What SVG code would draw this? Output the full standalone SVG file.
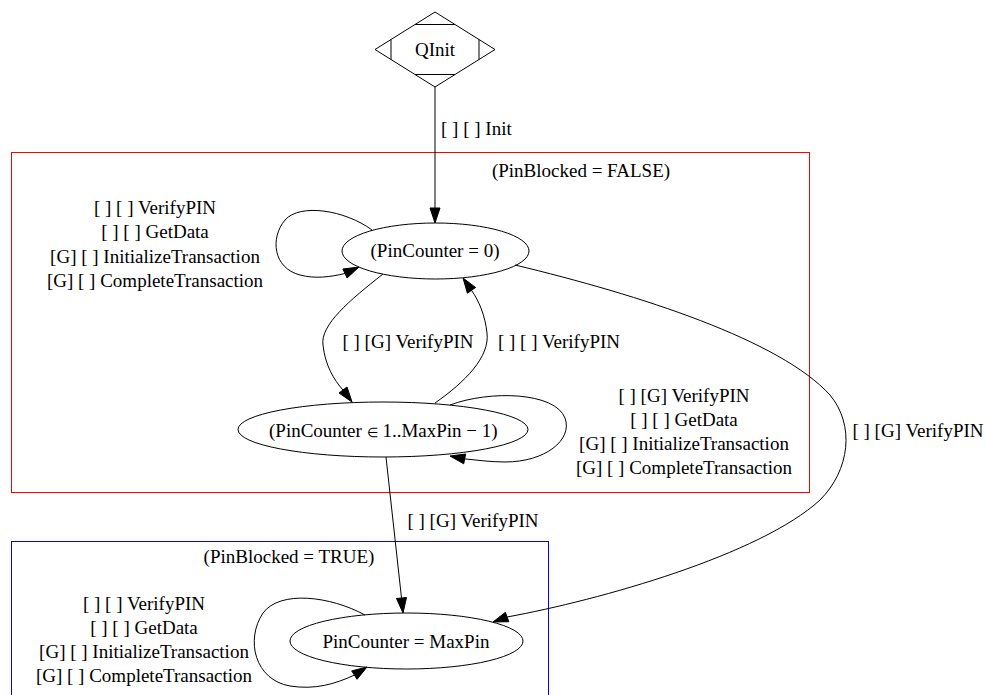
<svg xmlns="http://www.w3.org/2000/svg" width="986" height="695" viewBox="0 0 986 695">
<style>
text{font-family:"Liberation Serif","Times New Roman",serif;font-size:19px;fill:#000}
.mid{text-anchor:middle}
.sym{font-size:13px}
.edge{fill:none;stroke:#000;stroke-width:1}
.arr{fill:#000;stroke:#000;stroke-width:1}
.node{fill:none;stroke:#000;stroke-width:1}
</style>
<rect x="0" y="0" width="986" height="695" fill="#fff"/>
<g id="cluster_false">
<rect x="11.5" y="152.5" width="798" height="340" fill="none" stroke="#ff0000"/>
<text class="mid" x="581" y="177">(PinBlocked = FALSE)</text>
</g>
<g id="cluster_true">
<rect x="11.5" y="541.5" width="537" height="170" fill="none" stroke="#0000ff"/>
<text class="mid" x="289" y="563">(PinBlocked = TRUE)</text>
</g>
<g id="edges">
<path class="edge" d="M435,87 L435,208"/>
<polygon class="arr" points="430,208 435,223 440,208"/>
<text x="441" y="135">[ ] [ ] Init</text>

<path class="edge" d="M372,230 C345,210 300,203 285,220 C270,238 273,268 300,275 C315,279 330,277 345,273.5"/>
<polygon class="arr" points="347.1,278 359,267 342.9,269"/>
<text class="mid" x="155" y="214">[ ] [ ] VerifyPIN</text>
<text class="mid" x="155" y="238.3">[ ] [ ] GetData</text>
<text class="mid" x="155" y="262.6">[G] [ ] InitializeTransaction</text>
<text class="mid" x="155" y="287">[G] [ ] CompleteTransaction</text>

<path class="edge" d="M383,274 C350,300 320,325 323,345 C325,365 334,380 343,390"/>
<polygon class="arr" points="339,393 352,402 347,387"/>
<text class="mid" x="408" y="348">[ ] [G] VerifyPIN</text>

<path class="edge" d="M435,403 C465,382 490,357 487,333 C485,315 479,301 471.5,290.3"/>
<polygon class="arr" points="475.6,287.5 463,278 467.4,293.2"/>
<text class="mid" x="559" y="348">[ ] [ ] VerifyPIN</text>

<path class="edge" d="M450,405 C490,390 555,392 565,418 C573,440 545,462 505,462 C490,462 477,460 464.7,458.9"/>
<polygon class="arr" points="465.7,454 450,456 463.7,463.8"/>
<text class="mid" x="684" y="401.7">[ ] [G] VerifyPIN</text>
<text class="mid" x="684" y="425.8">[ ] [ ] GetData</text>
<text class="mid" x="684" y="450">[G] [ ] InitializeTransaction</text>
<text class="mid" x="684" y="474">[G] [ ] CompleteTransaction</text>

<path class="edge" d="M386,457 L401.5,598"/>
<polygon class="arr" points="396.5,598.5 403,613 406.5,597.5"/>
<text class="mid" x="473" y="527">[ ] [G] VerifyPIN</text>

<path class="edge" d="M515,265 C640,295 780,340 830,395 C855,425 850,470 820,500 C760,555 600,600 507.1,617"/>
<polygon class="arr" points="505.4,612.3 493,622 508.8,621.7"/>
<text class="mid" x="918" y="437">[ ] [G] VerifyPIN</text>

<path class="edge" d="M365,615 C330,596 280,590 263,613 C245,640 255,680 290,686 C315,690 335,684 354.4,675.1"/>
<polygon class="arr" points="357.1,679.3 367,667 351.7,670.9"/>
<text class="mid" x="144" y="610">[ ] [ ] VerifyPIN</text>
<text class="mid" x="144" y="633.5">[ ] [ ] GetData</text>
<text class="mid" x="144" y="658">[G] [ ] InitializeTransaction</text>
<text class="mid" x="144" y="681.7">[G] [ ] CompleteTransaction</text>
</g>
<g id="QInit">
<polygon class="node" points="435,12 495,49.5 435,87 375,49.5"/>
<line class="node" x1="415" y1="24.5" x2="455" y2="24.5"/>
<line class="node" x1="415" y1="74.5" x2="455" y2="74.5"/>
<line class="node" x1="391" y1="39.5" x2="391" y2="59.5"/>
<line class="node" x1="479" y1="39.5" x2="479" y2="59.5"/>
<text class="mid" x="435" y="56">QInit</text>
</g>
<g id="PinCounter0">
<ellipse class="node" cx="435.5" cy="251" rx="93.5" ry="28"/>
<text class="mid" x="435" y="257">(PinCounter = 0)</text>
</g>
<g id="PinCounterRange">
<ellipse class="node" cx="383" cy="429.5" rx="145" ry="27.5"/>
<text class="mid" x="383.3" y="436.5">(PinCounter <tspan class="sym">∈</tspan> 1..MaxPin − 1)</text>
</g>
<g id="PinCounterMax">
<ellipse class="node" cx="406.5" cy="641" rx="116.5" ry="28"/>
<text class="mid" x="406" y="648">PinCounter = MaxPin</text>
</g>
</svg>
